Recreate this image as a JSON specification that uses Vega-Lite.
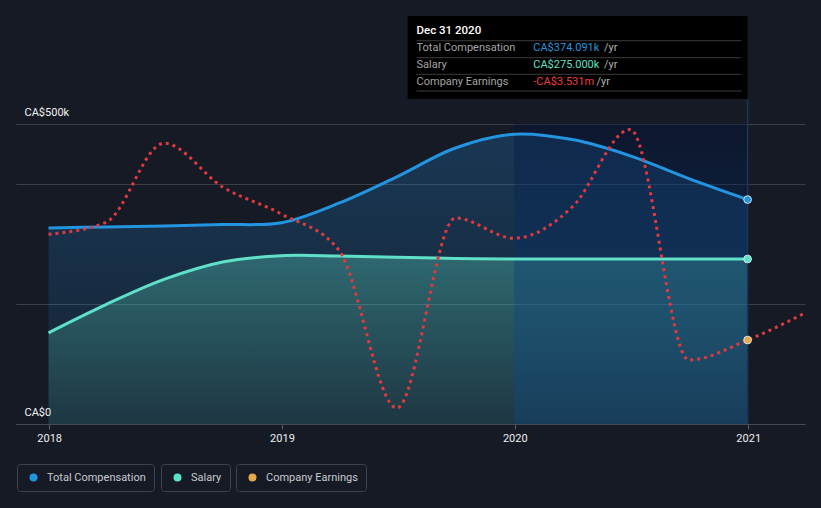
{
  "$schema": "https://vega.github.io/schema/vega-lite/v6.json",
  "width": 789,
  "height": 300,
  "autosize": {"type": "none"},
  "padding": {"left": 16, "top": 124, "right": 16, "bottom": 84},
  "background": "#151a24",
  "config": {"view": {"stroke": null}, "font": "Roboto"},
  "datasets": {
    "comp": [
      {"date": "2017-12-31", "total": 326700, "salary": 152000},
      {"date": "2018-03-31", "total": 328500, "salary": 199000},
      {"date": "2018-06-30", "total": 330000, "salary": 241000},
      {"date": "2018-09-30", "total": 332500, "salary": 270000},
      {"date": "2018-12-31", "total": 335500, "salary": 280500},
      {"date": "2019-03-31", "total": 368000, "salary": 280000},
      {"date": "2019-06-30", "total": 412000, "salary": 278000},
      {"date": "2019-09-30", "total": 460000, "salary": 276000},
      {"date": "2019-12-31", "total": 483000, "salary": 275000},
      {"date": "2020-03-31", "total": 474000, "salary": 275000},
      {"date": "2020-06-30", "total": 447000, "salary": 275000},
      {"date": "2020-09-30", "total": 409000, "salary": 275000},
      {"date": "2020-12-31", "total": 374091, "salary": 275000}
    ],
    "earn": [
      {"date": "2017-12-31", "earnings": 1.76},
      {"date": "2018-03-31", "earnings": 2.35},
      {"date": "2018-06-30", "earnings": 6.31},
      {"date": "2018-09-30", "earnings": 4.12},
      {"date": "2018-12-31", "earnings": 2.77},
      {"date": "2019-03-31", "earnings": 0.97},
      {"date": "2019-06-30", "earnings": -6.93},
      {"date": "2019-09-30", "earnings": 2.57},
      {"date": "2019-12-31", "earnings": 1.56},
      {"date": "2020-03-31", "earnings": 3.12},
      {"date": "2020-06-30", "earnings": 7.0},
      {"date": "2020-09-30", "earnings": -4.53},
      {"date": "2020-12-31", "earnings": -3.531},
      {"date": "2021-03-31", "earnings": -2.18}
    ]
  },
  "resolve": {"scale": {"y": "independent", "color": "independent"}},
  "layer": [
    {
      "resolve": {"scale": {"color": "independent"}},
      "layer": [
        {
          "data": {"name": "comp"},
          "mark": {"type": "area", "interpolate": "catmull-rom",
            "fill": {"gradient": "linear", "x1": 0, "y1": 0, "x2": 0, "y2": 1,
              "stops": [{"offset": 0, "color": "rgba(35,140,223,0.26)"}, {"offset": 1, "color": "rgba(35,140,223,0.08)"}]}},
          "encoding": {
            "x": {
              "field": "date", "type": "temporal",
              "scale": {"type": "utc", "domain": [1510272000000, 1617148800000], "nice": false},
              "axis": {
                "values": [1514764800000, 1546300800000, 1577836800000, 1609459200000],
                "format": "%Y", "grid": false, "title": null,
                "domainColor": "#454a54", "tickColor": "#5a5f68", "tickSize": 5,
                "labelColor": "#eeeeee", "labelFontSize": 11, "labelFont": "Roboto",
                "labelPadding": 3, "labelFlush": false
              }
            },
            "y": {
              "field": "total", "type": "quantitative",
              "scale": {"domain": [0, 500000], "nice": false},
              "axis": {
                "values": [0, 200000, 400000, 500000],
                "grid": true, "gridColor": "#3a3f48", "gridWidth": 1,
                "domain": false, "ticks": false, "tickSize": 0,
                "labelPadding": -8, "labelAlign": "left", "labelBaseline": "middle", "labelOffset": -12,
                "labelColor": "#f2f2f2", "labelFontSize": 11, "labelFont": "Roboto",
                "labelExpr": "datum.value == 0 ? 'CA$0' : datum.value == 500000 ? 'CA$500k' : ''",
                "title": null
              }
            }
          }
        },
        {
          "data": {"name": "comp"},
          "mark": {"type": "area", "interpolate": "catmull-rom",
            "fill": {"gradient": "linear", "x1": 0, "y1": 0, "x2": 0, "y2": 1,
              "stops": [{"offset": 0, "color": "rgba(95,224,200,0.32)"}, {"offset": 1, "color": "rgba(95,224,200,0.10)"}]}},
          "encoding": {
            "x": {"field": "date", "type": "temporal"},
            "y": {"field": "salary", "type": "quantitative"}
          }
        },
        {
          "data": {"values": [{}]},
          "mark": {"type": "rect",
            "fill": {"gradient": "linear", "x1": 0, "y1": 0, "x2": 0, "y2": 1,
              "stops": [{"offset": 0, "color": "rgba(0,18,60,0.4)"}, {"offset": 1, "color": "rgba(0,86,182,0.2)"}]}},
          "encoding": {
            "x": {"datum": 1577750400000, "type": "temporal"},
            "x2": {"datum": 1609372800000},
            "y": {"datum": 0, "type": "quantitative"},
            "y2": {"datum": 500000}
          }
        },
        {
          "data": {"name": "comp"},
          "mark": {"type": "line", "interpolate": "catmull-rom", "color": "#2394df", "strokeWidth": 3},
          "encoding": {
            "x": {"field": "date", "type": "temporal"},
            "y": {"field": "total", "type": "quantitative"}
          }
        },
        {
          "data": {"name": "comp"},
          "mark": {"type": "line", "interpolate": "catmull-rom", "color": "#5fe0c8", "strokeWidth": 3},
          "encoding": {
            "x": {"field": "date", "type": "temporal"},
            "y": {"field": "salary", "type": "quantitative"}
          }
        },
        {
          "data": {"values": [{}]},
          "mark": {"type": "rule", "color": "#1c3558", "strokeWidth": 1.5},
          "encoding": {
            "x": {"datum": 1609372800000, "type": "temporal"},
            "y": {"datum": 0, "type": "quantitative"},
            "y2": {"datum": 541700}
          }
        },
        {
          "data": {"name": "comp"},
          "transform": [{"filter": "utcyear(datum.date) == 2020 && utcmonth(datum.date) == 11"}],
          "mark": {"type": "point", "filled": true, "size": 60, "stroke": "#d8e0e8", "strokeWidth": 1, "opacity": 1},
          "encoding": {
            "x": {"field": "date", "type": "temporal"},
            "y": {"field": "total", "type": "quantitative"},
            "color": {
              "datum": "Total Compensation",
              "scale": {"range": ["#2394df"]},
              "legend": {"orient": "none", "legendX": 1, "legendY": 340, "title": null,
                "strokeColor": "#3d424c", "cornerRadius": 3, "padding": 8,
                "symbolType": "circle", "symbolSize": 64, "symbolOffset": 3, "symbolStrokeWidth": 0,
                "labelOffset": 8, "labelFontSize": 11, "labelColor": "#c8cbd0", "labelFont": "Roboto",
                "labelExpr": "datum.label + ' '"}
            }
          }
        },
        {
          "data": {"name": "comp"},
          "transform": [{"filter": "utcyear(datum.date) == 2020 && utcmonth(datum.date) == 11"}],
          "mark": {"type": "point", "filled": true, "size": 60, "stroke": "#d8e0e8", "strokeWidth": 1, "opacity": 1},
          "encoding": {
            "x": {"field": "date", "type": "temporal"},
            "y": {"field": "salary", "type": "quantitative"},
            "color": {
              "datum": "Salary",
              "scale": {"range": ["#5fe0c8"]},
              "legend": {"orient": "none", "legendX": 145, "legendY": 340, "title": null,
                "strokeColor": "#3d424c", "cornerRadius": 3, "padding": 8,
                "symbolType": "circle", "symbolSize": 64, "symbolOffset": 3, "symbolStrokeWidth": 0,
                "labelOffset": 8, "labelFontSize": 11, "labelColor": "#c8cbd0", "labelFont": "Roboto",
                "labelExpr": "datum.label + ' '"}
            }
          }
        },
        {
          "data": {"values": [{}]},
          "mark": {"type": "rect", "fill": "#000000"},
          "encoding": {
            "x": {"datum": 1563321600000, "type": "temporal"},
            "x2": {"datum": 1609372800000},
            "y": {"datum": 541700, "type": "quantitative"},
            "y2": {"datum": 680000}
          }
        },
        {
          "data": {"values": [{}]},
          "mark": {"type": "rule", "color": "#3c3c3c", "strokeWidth": 1},
          "encoding": {
            "x": {"datum": 1564531200000, "type": "temporal"},
            "x2": {"datum": 1608508800000},
            "y": {"datum": 638800, "type": "quantitative"}
          }
        },
        {
          "data": {"values": [{}]},
          "mark": {"type": "rule", "color": "#3c3c3c", "strokeWidth": 1},
          "encoding": {
            "x": {"datum": 1564531200000, "type": "temporal"},
            "x2": {"datum": 1608508800000},
            "y": {"datum": 610500, "type": "quantitative"}
          }
        },
        {
          "data": {"values": [{}]},
          "mark": {"type": "rule", "color": "#3c3c3c", "strokeWidth": 1},
          "encoding": {
            "x": {"datum": 1564531200000, "type": "temporal"},
            "x2": {"datum": 1608508800000},
            "y": {"datum": 582800, "type": "quantitative"}
          }
        },
        {
          "data": {"values": [{}]},
          "mark": {"type": "rule", "color": "#3c3c3c", "strokeWidth": 1},
          "encoding": {
            "x": {"datum": 1564531200000, "type": "temporal"},
            "x2": {"datum": 1608508800000},
            "y": {"datum": 555000, "type": "quantitative"}
          }
        },
        {
          "data": {"values": [{}]},
          "mark": {"type": "text", "text": "Dec 31 2020", "align": "left", "baseline": "middle", "fontSize": 11.5, "fill": "#ffffff", "font": "Roboto", "fontWeight": 500},
          "encoding": {
            "x": {"datum": 1564531200000, "type": "temporal"},
            "y": {"datum": 654500, "type": "quantitative"}
          }
        },
        {
          "data": {"values": [{}]},
          "mark": {"type": "text", "text": "Total Compensation", "align": "left", "baseline": "middle", "fontSize": 11, "fill": "#a3a3a3", "font": "Roboto"},
          "encoding": {
            "x": {"datum": 1564531200000, "type": "temporal"},
            "y": {"datum": 626200, "type": "quantitative"}
          }
        },
        {
          "data": {"values": [{}]},
          "mark": {"type": "text", "text": "Salary", "align": "left", "baseline": "middle", "fontSize": 11, "fill": "#a3a3a3", "font": "Roboto"},
          "encoding": {
            "x": {"datum": 1564531200000, "type": "temporal"},
            "y": {"datum": 598300, "type": "quantitative"}
          }
        },
        {
          "data": {"values": [{}]},
          "mark": {"type": "text", "text": "Company Earnings", "align": "left", "baseline": "middle", "fontSize": 11, "fill": "#a3a3a3", "font": "Roboto"},
          "encoding": {
            "x": {"datum": 1564531200000, "type": "temporal"},
            "y": {"datum": 570000, "type": "quantitative"}
          }
        },
        {
          "data": {"values": [{}]},
          "mark": {"type": "text", "text": "CA$374.091k", "align": "left", "baseline": "middle", "fontSize": 11, "fill": "#2394df", "font": "Roboto"},
          "encoding": {
            "x": {"datum": 1580342400000, "type": "temporal"},
            "y": {"datum": 626200, "type": "quantitative"}
          }
        },
        {
          "data": {"values": [{}]},
          "mark": {"type": "text", "text": "CA$275.000k", "align": "left", "baseline": "middle", "fontSize": 11, "fill": "#5fe0c8", "font": "Roboto"},
          "encoding": {
            "x": {"datum": 1580342400000, "type": "temporal"},
            "y": {"datum": 598300, "type": "quantitative"}
          }
        },
        {
          "data": {"values": [{}]},
          "mark": {"type": "text", "text": "-CA$3.531m", "align": "left", "baseline": "middle", "fontSize": 11, "fill": "#ef3b3f", "font": "Roboto"},
          "encoding": {
            "x": {"datum": 1580342400000, "type": "temporal"},
            "y": {"datum": 570000, "type": "quantitative"}
          }
        },
        {
          "data": {"values": [{}]},
          "mark": {"type": "text", "text": "/yr", "align": "left", "baseline": "middle", "fontSize": 11, "fill": "#b0b0b0", "font": "Roboto"},
          "encoding": {
            "x": {"datum": 1589932800000, "type": "temporal"},
            "y": {"datum": 626200, "type": "quantitative"}
          }
        },
        {
          "data": {"values": [{}]},
          "mark": {"type": "text", "text": "/yr", "align": "left", "baseline": "middle", "fontSize": 11, "fill": "#b0b0b0", "font": "Roboto"},
          "encoding": {
            "x": {"datum": 1589932800000, "type": "temporal"},
            "y": {"datum": 598300, "type": "quantitative"}
          }
        },
        {
          "data": {"values": [{}]},
          "mark": {"type": "text", "text": "/yr", "align": "left", "baseline": "middle", "fontSize": 11, "fill": "#b0b0b0", "font": "Roboto"},
          "encoding": {
            "x": {"datum": 1588896000000, "type": "temporal"},
            "y": {"datum": 570000, "type": "quantitative"}
          }
        }
      ]
    },
    {
      "layer": [
        {
          "data": {"name": "earn"},
          "mark": {"type": "line", "interpolate": "monotone", "color": "#e0393e", "strokeWidth": 3, "strokeDash": [3, 4]},
          "encoding": {
            "x": {"field": "date", "type": "temporal", "scale": {"type": "utc", "domain": [1510272000000, 1617148800000], "nice": false}},
            "y": {"field": "earnings", "type": "quantitative", "scale": {"domain": [-7.73, 7.27], "nice": false, "zero": false}, "axis": null}
          }
        },
        {
          "data": {"name": "earn"},
          "transform": [{"filter": "utcyear(datum.date) == 2020 && utcmonth(datum.date) == 11"}],
          "mark": {"type": "point", "filled": true, "size": 60, "stroke": "#d8e0e8", "strokeWidth": 1, "opacity": 1},
          "encoding": {
            "x": {"field": "date", "type": "temporal"},
            "y": {"field": "earnings", "type": "quantitative", "axis": null},
            "color": {
              "datum": "Company Earnings",
              "scale": {"range": ["#e8a84e"]},
              "legend": {"orient": "none", "legendX": 220, "legendY": 340, "title": null,
                "strokeColor": "#3d424c", "cornerRadius": 3, "padding": 8,
                "symbolType": "circle", "symbolSize": 64, "symbolOffset": 3, "symbolStrokeWidth": 0,
                "labelOffset": 8, "labelFontSize": 11, "labelColor": "#c8cbd0", "labelFont": "Roboto",
                "labelExpr": "datum.label + ' '"}
            }
          }
        }
      ]
    }
  ]
}
